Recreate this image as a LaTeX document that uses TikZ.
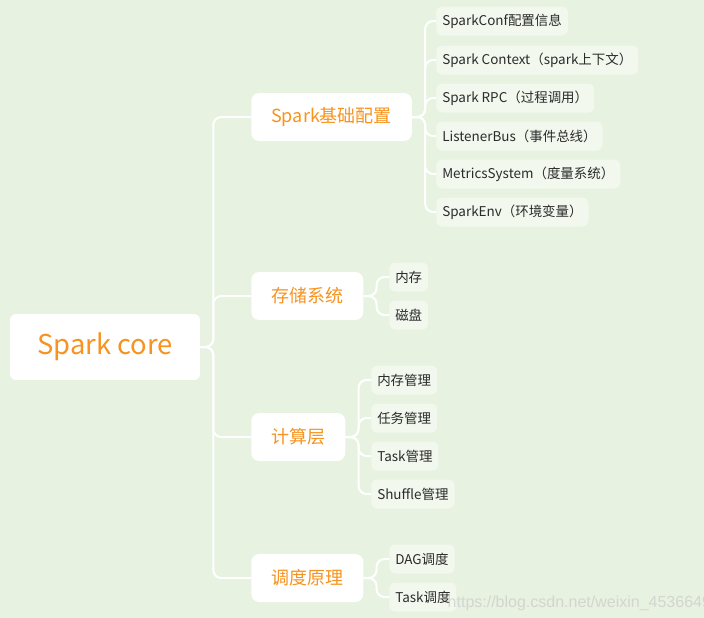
\documentclass[tikz,border=0pt]{standalone}
\usepackage{fontspec}
\setmainfont{Noto Sans CJK SC}
\newfontfamily\wmfont{Liberation Sans}
\usetikzlibrary{positioning}
\definecolor{mapBg}{HTML}{E8F2E0}
\definecolor{mapOrange}{HTML}{F7931E}
\definecolor{mapLeaf}{HTML}{F2F8EE}
\definecolor{mapText}{HTML}{2B2B2B}
\tikzset{
  core/.style={rounded corners=4.5pt, fill=white, text=mapOrange, inner sep=0pt,
              font=\fontsize{20.5}{23}\selectfont, minimum width=142.5pt, minimum height=49.5pt},
  topic/.style={rounded corners=6pt, fill=white, text=mapOrange, anchor=west,
              inner xsep=15pt, inner ysep=0pt, minimum height=36pt, font=\fontsize{13.5}{16}\selectfont},
  leaf/.style={rounded corners=4.5pt, fill=mapLeaf, text=mapText, anchor=west,
              inner xsep=4.5pt, inner ysep=0pt, minimum height=21.75pt, font=\fontsize{10.1}{12}\selectfont},
  link/.style={draw=white, line width=1.5pt, rounded corners=6pt},
  mark text/.style={anchor=west, text=white!80!black, opacity=0.75, font=\wmfont\fontsize{12}{14}\selectfont},
}

\begin{document}
\begin{tikzpicture}[x=0.75pt,y=-0.75pt]
        \fill[mapBg] (0,0) rectangle (704,618);
        \useasboundingbox (0,0) rectangle (704,618);
        % root and main topics
        \node[core] (sc) at (105,347){Spark core};
        \node[topic] (base) at (251,117){Spark基础配置};
        \node[topic] (store) at (251,296){存储系统};
        \node[topic] (calc) at (251,437){计算层};
        \node[topic] (sched) at (251,578){调度原理};
        \foreach \n in {base,store,calc,sched}{\draw[link](sc.east)--++(13,0)|-(\n.west);}
        % Spark基础配置
        \node[leaf] (conf) at (436,21){SparkConf配置信息};
        \node[leaf] (ctx) at (436,60){Spark Context（spark上下文）};
        \node[leaf] (rpc) at (436,98){Spark RPC（过程调用）};
        \node[leaf] (bus) at (436,136){ListenerBus（事件总线）};
        \node[leaf] (metric) at (436,174){MetricsSystem（度量系统）};
        \node[leaf] (env) at (436,212){SparkEnv（环境变量）};
        \foreach \n in {conf,ctx,rpc,bus,metric,env}{\draw[link](base.east)--++(13,0)|-(\n.west);}
        % 存储系统
        \node[leaf] (mem) at (389,277){内存};
        \node[leaf] (disk) at (389,315){磁盘};
        \foreach \n in {mem,disk}{\draw[link](store.east)--++(13,0)|-(\n.west);}
        % 计算层
        \node[leaf] (memmgr) at (371,380){内存管理};
        \node[leaf] (jobmgr) at (371,418){任务管理};
        \node[leaf] (taskmgr) at (371,456){Task管理};
        \node[leaf] (shuffle) at (371,494){Shuffle管理};
        \foreach \n in {memmgr,jobmgr,taskmgr,shuffle}{\draw[link](calc.east)--++(13,0)|-(\n.west);}
        % 调度原理
        \node[leaf] (dag) at (389,559){DAG调度};
        \node[leaf] (task) at (389,597){Task调度};
        \foreach \n in {dag,task}{\draw[link](sched.east)--++(13,0)|-(\n.west);}
        \node[mark text] (wm) at (443,603){https://blog.csdn.net/weixin\_4536649};
      \end{tikzpicture}
\end{document}
